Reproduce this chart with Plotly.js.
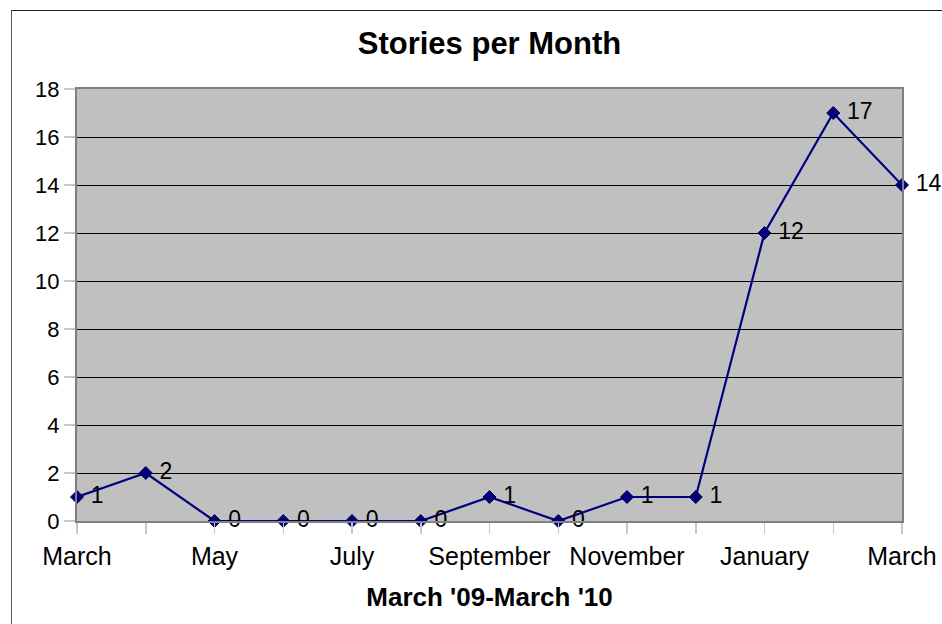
<!DOCTYPE html>
<html>
<head>
<meta charset="utf-8">
<script src="https://cdn.plot.ly/plotly-3.0.1.min.js"></script>
<style>
  html, body { margin: 0; padding: 0; background: #fff; }
  #wrap { position: relative; width: 942px; height: 624px; overflow: hidden; }
  #chart { width: 942px; height: 624px; }
  #frame { position: absolute; left: 11px; top: 10px; width: 940px; height: 620px;
           border-left: 1.5px solid #555; border-top: 1.5px solid #222; pointer-events: none; }
</style>
</head>
<body>
<div id="wrap">
  <div id="chart"></div>
  <div id="frame"></div>
</div>
<script>
// Months from March '09 to March '10
const months = ['March', 'April', 'May', 'June', 'July', 'August', 'September',
                'October', 'November', 'December', 'January', 'February', 'March'];
// Tick labels shown on the axis (every other month)
const tickLabels = ['March', '', 'May', '', 'July', '', 'September',
                    '', 'November', '', 'January', '', 'March'];
// Stories per month
const stories = [1, 2, 0, 0, 0, 0, 1, 0, 1, 1, 12, 17, 14];

const idx = months.map((m, i) => i);
const FONT = 'Liberation Sans, Arial, sans-serif';

const trace = {
  x: idx,
  y: stories,
  type: 'scatter',
  mode: 'lines+markers+text',
  texttemplate: ' %{y}',
  textposition: 'middle right',
  textfont: { family: FONT, size: 23, color: '#000' },
  line: { color: '#000080', width: 2.2 },
  marker: { symbol: 'diamond', size: 10, color: '#000080', line: { color: '#000040', width: 1 } },
  cliponaxis: false,
  hoverinfo: 'skip'
};

const layout = {
  width: 942,
  height: 624,
  margin: { l: 77, r: 40, t: 89, b: 103 },
  paper_bgcolor: '#ffffff',
  plot_bgcolor: '#c0c0c0',
  font: { family: FONT, size: 22, color: '#000' },
  showlegend: false,
  title: {
    text: '<b>Stories per Month</b>',
    font: { size: 31, color: '#000' },
    x: 0.5, xref: 'paper', xanchor: 'center',
    y: 1 - 43 / 624, yref: 'container', yanchor: 'middle'
  },
  xaxis: {
    range: [0, 12],
    tickvals: idx,
    ticktext: tickLabels,
    ticks: 'outside',
    ticklen: 11,
    tickwidth: 1.5,
    tickcolor: '#c8c8c8',
    ticklabelstandoff: 1,
    showgrid: false,
    zeroline: false,
    showline: true,
    linecolor: '#808080',
    linewidth: 2,
    mirror: true,
    tickfont: { size: 25 },
    title: { text: "<b>March '09-March '10</b>", font: { size: 26 }, standoff: 19 }
  },
  yaxis: {
    range: [0, 18],
    dtick: 2,
    tick0: 0,
    ticks: 'outside',
    ticklen: 11,
    tickwidth: 1.5,
    tickcolor: '#c8c8c8',
    showgrid: true,
    gridcolor: '#000000',
    gridwidth: 1,
    zeroline: false,
    showline: true,
    linecolor: '#808080',
    linewidth: 2,
    mirror: true,
    tickfont: { size: 22 }
  }
};

Plotly.newPlot('chart', [trace], layout, { staticPlot: true, displayModeBar: false });
</script>
</body>
</html>
